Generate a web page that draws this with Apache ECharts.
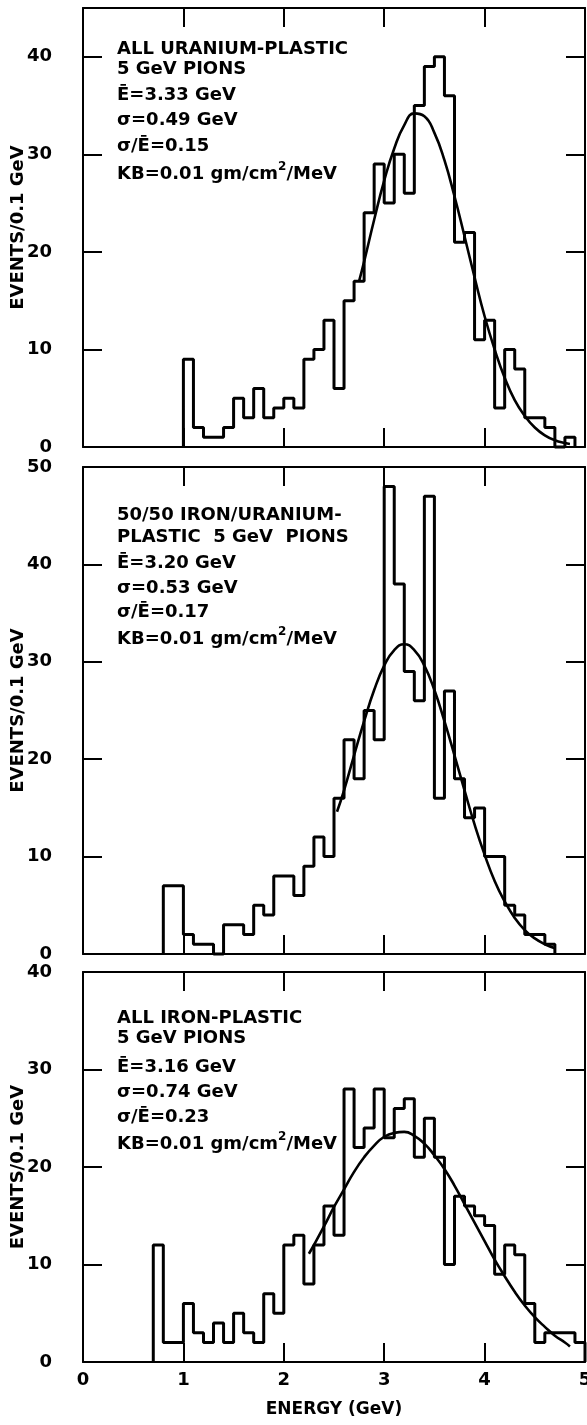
<!DOCTYPE html>
<html>
<head>
<meta charset="utf-8">
<script src="https://cdn.jsdelivr.net/npm/echarts@6/dist/echarts.min.js"></script>
<style>
html,body{margin:0;padding:0;background:#fff;}
#chart{width:587px;height:1425px;}
</style>
</head>
<body>
<div id="chart"></div>
<script>
// ---------------- DATA ----------------
// Histogram bins are 0.1 GeV wide; counts listed from the first bin's lower edge.
const binWidth = 0.1;

const uraniumStart = 1.0;
const uraniumCounts = [9,2,1,1,2,5,3,6,3,4, 5,4,9,10,13,6,15,17,24,29, 25,30,26,35,39,40,36,21,22,11, 13,4,10,8,3,3,2,0,1];

const mixedStart = 0.8;
const mixedCounts = [7,7, 2,1,1,0,3,3,2,5,4,8, 8,6,9,12,10,16,22,18,25,22, 48,38,29,26,47,16,27,18,14,15, 10,10,5,4,2,2,1];

const ironStart = 0.7;
const ironCounts = [12,2,2, 6,3,2,4,2,5,3,2,7,5, 12,13,8,12,16,13,28,22,24,28, 23,26,27,21,25,21,10,17,16,15, 14,9,12,11,6,2,3,3,3,2];

// Fitted curves (energy GeV, events)
const uraniumFitE = [2.75,2.8,2.9,3.0,3.1,3.2,3.3,3.4,3.5,3.6,3.7,3.8,3.9,4.0,4.1,4.2,4.3,4.4,4.5,4.6,4.7,4.8,4.85];
const uraniumFitN = [17.0,19.0,23.3,27.3,30.6,33.0,34.2,33.9,32.2,29.4,25.7,21.6,17.4,13.4,10.0,7.1,4.8,3.2,2.0,1.2,0.7,0.4,0.3];

const mixedFitE = [2.53,2.6,2.7,2.8,2.9,3.0,3.1,3.2,3.3,3.4,3.5,3.6,3.7,3.8,3.9,4.0,4.1,4.2,4.3,4.4,4.5,4.6,4.7];
const mixedFitN = [14.6,16.8,20.4,23.9,27.1,29.6,31.2,31.8,31.2,29.6,27.1,23.9,20.4,16.8,13.3,10.2,7.5,5.4,3.7,2.45,1.6,1.0,0.6];

const ironFitE = [2.25,2.3,2.4,2.5,2.6,2.7,2.8,2.9,3.0,3.1,3.2,3.3,3.4,3.5,3.6,3.7,3.8,3.9,4.0,4.1,4.2,4.3,4.4,4.5,4.6,4.7,4.8,4.85];
const ironFitN = [11.1,12.0,13.9,15.9,17.7,19.5,21.0,22.2,23.1,23.5,23.6,23.2,22.4,21.2,19.8,18.1,16.2,14.3,12.4,10.5,8.8,7.2,5.8,4.6,3.6,2.7,2.0,1.6];

// Axis extents and tick labels
const energyTickLabels = ['0','1','2','3','4','5'];
const panelMax = [45, 50, 40];

// Annotation text
const uraniumText = ['ALL URANIUM-PLASTIC','5 GeV PIONS','\u0112=3.33 GeV','\u03c3=0.49 GeV','\u03c3/\u0112=0.15','KB=0.01 gm/cm|2|/MeV'];
const mixedText = ['50/50 IRON/URANIUM-','PLASTIC  5 GeV  PIONS','\u0112=3.20 GeV','\u03c3=0.53 GeV','\u03c3/\u0112=0.17','KB=0.01 gm/cm|2|/MeV'];
const ironText = ['ALL IRON-PLASTIC','5 GeV PIONS','\u0112=3.16 GeV','\u03c3=0.74 GeV','\u03c3/\u0112=0.23','KB=0.01 gm/cm|2|/MeV'];

// ---------------- LAYOUT ----------------
const FONT = '"DejaVu Sans", "Liberation Sans", sans-serif';
const grids = [
  {left: 83, right: 2, top: 8, height: 439, containLabel: false, outerBoundsMode: 'none'},
  {left: 83, right: 2, top: 467, height: 487, containLabel: false, outerBoundsMode: 'none'},
  {left: 83, right: 2, top: 972, height: 390, containLabel: false, outerBoundsMode: 'none'}
];
const textTops = [
  [40, 60, 86, 111, 137, 161],
  [506, 528, 554, 579, 603, 626],
  [1009, 1029, 1058, 1083, 1108, 1131]
];
const textLeft = 117;

function histPoints(start, counts) {
  const pts = [[start, 0]];
  counts.forEach((c, i) => pts.push([+(start + i * binWidth).toFixed(2), c]));
  const end = +(start + counts.length * binWidth).toFixed(2);
  pts.push([end, counts[counts.length - 1]]);
  pts.push([end, 0]);
  return pts;
}
function zip(a, b) { return a.map((v, i) => [v, b[i]]); }

const lineBlack = {color: '#000', width: 2};
const xAxes = [], yAxes = [];
grids.forEach((g, i) => {
  const isBottom = i === 2;
  xAxes.push({
    type: 'value', gridIndex: i, position: 'bottom', min: 0, max: 5, interval: 1,
    axisLine: {show: true, onZero: false, lineStyle: lineBlack},
    axisTick: {show: true, inside: true, length: 19, lineStyle: lineBlack},
    axisLabel: {show: isBottom, margin: 9, color: '#000', fontFamily: FONT, fontWeight: 'bold', fontSize: 18,
      formatter: v => energyTickLabels[Math.round(v)] || ''},
    splitLine: {show: false},
    name: isBottom ? 'ENERGY (GeV)' : '', nameLocation: 'middle', nameGap: 39, nameMoveOverlap: false,
    nameTextStyle: {color: '#000', fontFamily: FONT, fontWeight: 'bold', fontSize: 17}
  });
  xAxes.push({
    type: 'value', gridIndex: i, position: 'top', min: 0, max: 5, interval: 1,
    axisLine: {show: true, onZero: false, lineStyle: lineBlack},
    axisTick: {show: true, inside: true, length: 19, lineStyle: lineBlack},
    axisLabel: {show: false}, splitLine: {show: false}
  });
  yAxes.push({
    type: 'value', gridIndex: i, position: 'left', min: 0, max: panelMax[i], interval: 10,
    axisLine: {show: true, onZero: false, lineStyle: lineBlack},
    axisTick: {show: true, inside: true, length: 19, lineStyle: lineBlack},
    axisLabel: {show: true, margin: 31, color: '#000', fontFamily: FONT, fontWeight: 'bold', fontSize: 18,
      formatter: v => (v % 10 === 0 ? String(v) : '')},
    splitLine: {show: false},
    name: 'EVENTS/0.1 GeV', nameLocation: 'middle', nameGap: 56, nameMoveOverlap: false,
    nameTextStyle: {color: '#000', fontFamily: FONT, fontWeight: 'bold', fontSize: 18}
  });
  yAxes.push({
    type: 'value', gridIndex: i, position: 'right', min: 0, max: panelMax[i], interval: 10,
    axisLine: {show: true, onZero: false, lineStyle: lineBlack},
    axisTick: {show: true, inside: true, length: 19, lineStyle: lineBlack},
    axisLabel: {show: false}, splitLine: {show: false}
  });
});

const hists = [[uraniumStart, uraniumCounts], [mixedStart, mixedCounts], [ironStart, ironCounts]];
const fits = [[uraniumFitE, uraniumFitN], [mixedFitE, mixedFitN], [ironFitE, ironFitN]];
const series = [];
hists.forEach((h, i) => {
  series.push({
    type: 'line', xAxisIndex: 2 * i, yAxisIndex: 2 * i, data: histPoints(h[0], h[1]),
    step: 'end', symbol: 'none', animation: false, clip: false,
    lineStyle: {color: '#000', width: 3}
  });
  series.push({
    type: 'line', xAxisIndex: 2 * i, yAxisIndex: 2 * i, data: zip(fits[i][0], fits[i][1]),
    smooth: true, symbol: 'none', animation: false,
    lineStyle: {color: '#000', width: 2.6}
  });
});

const texts = [uraniumText, mixedText, ironText];
const graphic = [];
const baseFont = {fontFamily: FONT, fontWeight: 'bold', fontSize: 18, fill: '#000'};
texts.forEach((lines, p) => {
  lines.forEach((t, k) => {
    let style;
    if (t.indexOf('|') >= 0) {
      const parts = t.split('|');
      style = {
        text: '{a|' + parts[0] + '}{s|' + parts[1] + '}{a|' + parts[2] + '}',
        rich: {
          a: {fontFamily: FONT, fontWeight: 'bold', fontSize: 18, fill: '#000', lineHeight: 22, verticalAlign: 'bottom'},
          s: {fontFamily: FONT, fontWeight: 'bold', fontSize: 12, fill: '#000', lineHeight: 22, verticalAlign: 'top'}
        }
      };
    } else {
      style = Object.assign({text: t}, baseFont);
    }
    graphic.push({type: 'text', left: textLeft, top: textTops[p][k], style: style, z: 100});
  });
});

const chart = echarts.init(document.getElementById('chart'), null, {renderer: 'canvas'});
chart.setOption({
  backgroundColor: '#fff',
  animation: false,
  textStyle: {fontFamily: FONT},
  grid: grids,
  xAxis: xAxes,
  yAxis: yAxes,
  series: series,
  graphic: graphic
});
</script>
</body>
</html>
